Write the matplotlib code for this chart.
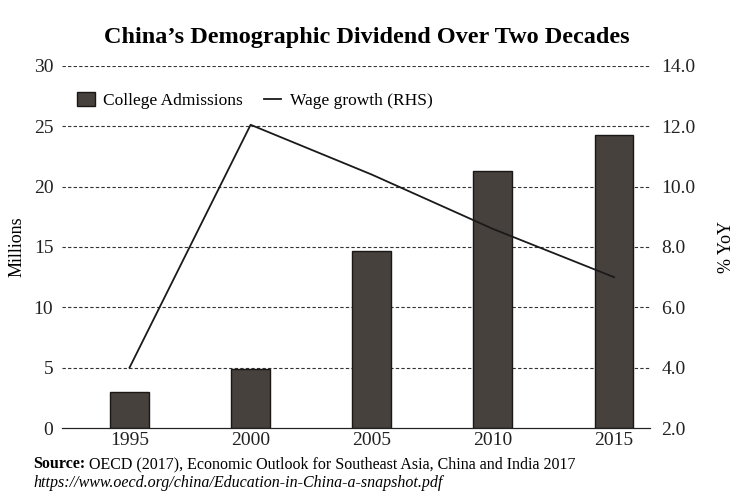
import matplotlib.pyplot as plt
import numpy as np

years = ["1995", "2000", "2005", "2010", "2015"]
admissions = [3.0, 4.9, 14.7, 21.3, 24.3]   # millions
wage_growth = [4.0, 12.05, 10.4, 8.6, 7.0]  # % YoY

left_ticks = [0, 5, 10, 15, 20, 25, 30]
right_ticks = [2.0, 4.0, 6.0, 8.0, 10.0, 12.0, 14.0]

plt.rcParams["font.family"] = ["Liberation Serif", "DejaVu Serif"]
plt.rcParams["font.size"] = 12

fig = plt.figure(figsize=(7.34, 4.92), dpi=100)
ax = fig.add_axes([0.084, 0.130, 0.802, 0.736])
ax2 = ax.twinx()

x = np.arange(len(years))
ax.bar(x, admissions, width=0.32, color="#47413d", edgecolor="#1a1715",
       linewidth=1.0, label="College Admissions", zorder=2)
ax2.plot(x, wage_growth, color="#1a1a1a", lw=1.3, label="Wage growth (RHS)", zorder=3)

ax.set_xlim(-0.56, 4.3)
ax.set_ylim(0, 30)
ax2.set_ylim(2, 14)
ax.set_yticks(left_ticks)
ax2.set_yticks(right_ticks)
ax2.set_yticklabels([f"{t:.1f}" for t in right_ticks])
ax.set_xticks(x)
ax.set_xticklabels(years)

# dashed gridlines running across from the tick labels
for t in left_ticks[1:]:
    ax.axhline(t, color="#333333", lw=0.8, ls=(0, (3, 2)), zorder=1)

for a in (ax, ax2):
    for s in ("top", "left", "right"):
        a.spines[s].set_visible(False)
    a.spines["bottom"].set_color("#222222")
    a.tick_params(length=0, labelsize=14, colors="#222222")
ax.tick_params(axis="y", pad=6)
ax2.tick_params(axis="y", pad=8)
ax.tick_params(axis="x", pad=3)

ax.set_ylabel("Millions", fontsize=13, labelpad=6)
ax2.set_ylabel("% YoY", fontsize=13, labelpad=16)

h1, l1 = ax.get_legend_handles_labels()
h2, l2 = ax2.get_legend_handles_labels()
ax.legend(h1 + h2, l1 + l2, loc="upper left", bbox_to_anchor=(0.0, 0.97),
          ncol=2, frameon=False, fontsize=12.5, handlelength=1.0,
          handleheight=0.8, columnspacing=1.2, handletextpad=0.5)

fig.text(0.5, 0.913, "China\u2019s Demographic Dividend Over Two Decades",
         ha="center", fontsize=17.5, fontweight="bold")
src = fig.text(0.045, 0.048, "Source:", fontsize=11.5, fontweight="bold")
ax.annotate(" OECD (2017), Economic Outlook for Southeast Asia, China and India 2017",
            xy=(1, 0), xycoords=src, fontsize=11.5, va="bottom", annotation_clip=False)
fig.text(0.045, 0.010, "https://www.oecd.org/china/Education-in-China-a-snapshot.pdf",
         fontsize=11.5, style="italic")

fig.savefig("out.png", dpi=100)
